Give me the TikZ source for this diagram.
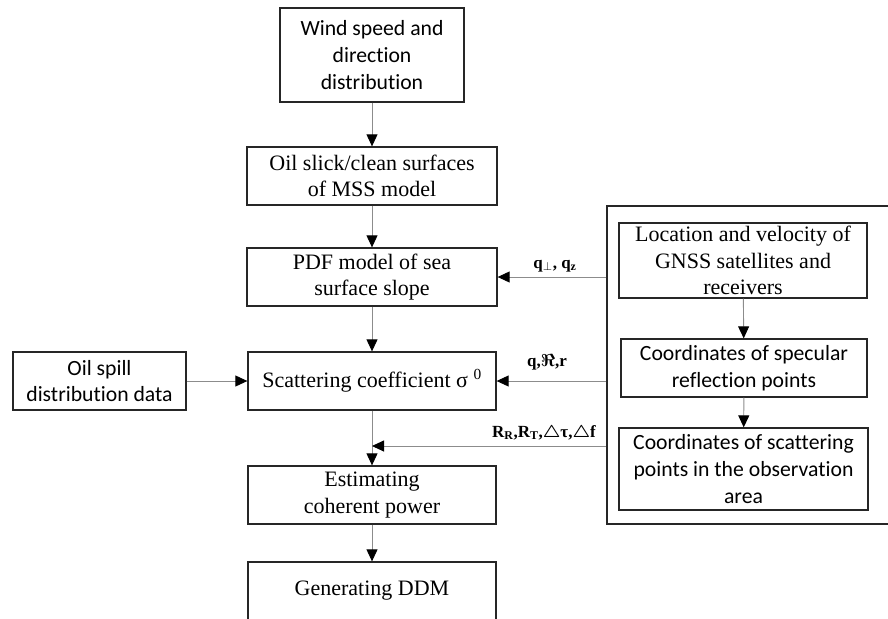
\documentclass[tikz,border=0pt]{standalone}
\usepackage{amsmath,amssymb}
\usepackage{fontspec}
\setmainfont{Liberation Serif}
\newfontfamily\calfont[Ligatures={NoCommon,NoDiscretionary}]{Carlito}
\usetikzlibrary{arrows.meta}
\begin{document}
\begin{tikzpicture}[x=1pt,y=-1pt,
  box/.style={draw=black!85, line width=1.3pt, inner sep=0pt, align=center,
    font=\fontsize{22}{26.7}\selectfont},
  cbox/.style={box, font=\calfont\fontsize{21.7}{26.7}\selectfont},
  conn/.style={draw=black!45, line width=0.9pt, -{Triangle[length=12pt,width=11pt,color=black]}},
  lab/.style={font=\bfseries\fontsize{17}{19}\selectfont, inner sep=1pt}]
\useasboundingbox (0,0) rectangle (888,618);
\clip (0,0) rectangle (888,618);
% left column
\node[cbox, minimum width=184pt, minimum height=94pt] (wind) at (372,55) {Wind speed and\\direction\\distribution};
\node[box, minimum width=250pt, minimum height=58pt] (slick) at (372,176) {Oil slick/clean surfaces\\of MSS model};
\node[box, minimum width=250pt, minimum height=58pt] (pdf) at (372,277) {PDF model of sea\\surface slope};
\node[cbox, minimum width=173pt, minimum height=58pt] (spill) at (99.5,381) {Oil spill\\distribution data};
\node[box, minimum width=248pt, minimum height=58pt] (scat) at (372,381) {Scattering coefficient σ \textsuperscript{0}};
\node[box, minimum width=248pt, minimum height=58pt] (est) at (372,495) {Estimating\\coherent power};
\node[box, minimum width=248pt, minimum height=58pt] (ddm) at (372,591) {Generating DDM};
% right group
\node[draw=black!85, line width=1.3pt, minimum width=286pt, minimum height=318pt, inner sep=0pt] (group) at (750,365) {};
\node[box, minimum width=248pt, minimum height=75pt] (loc) at (743,260.5) {Location and velocity of\\GNSS satellites and\\receivers};
\node[cbox, minimum width=246pt, minimum height=58pt] (spec) at (744,368) {Coordinates of specular\\reflection points};
\node[cbox, minimum width=249pt, minimum height=82pt] (pts) at (743.5,469) {Coordinates of scattering\\points in the observation\\area};
% connectors
\draw[conn] (wind) -- (slick);
\draw[conn] (slick) -- (pdf);
\draw[conn] (pdf) -- (scat);
\draw[conn] (spill) -- (scat);
\draw[conn] (scat) -- (est);
\draw[conn] (est) -- (ddm);
\draw[conn] (loc) -- (spec);
\draw[conn] (spec) -- (pts);
\draw[conn] (group.west |- pdf) -- (pdf.east);
\draw[conn] (group.west |- scat) -- (scat.east);
\coordinate (j) at (372,446);
\draw[conn] (group.west |- j) -- (j);
% labels
\node[lab] (l1) at (555,266) {q\textsubscript{$\perp$}, q\textsubscript{z}};
\node[lab] (l2) at (547,362) {q,$\boldsymbol{\Re}$,r};
\node[lab] (l3) at (544,433) {R\textsubscript{R},R\textsubscript{T},$\boldsymbol{\triangle}$τ,$\boldsymbol{\triangle}$f};
\end{tikzpicture}
\end{document}
